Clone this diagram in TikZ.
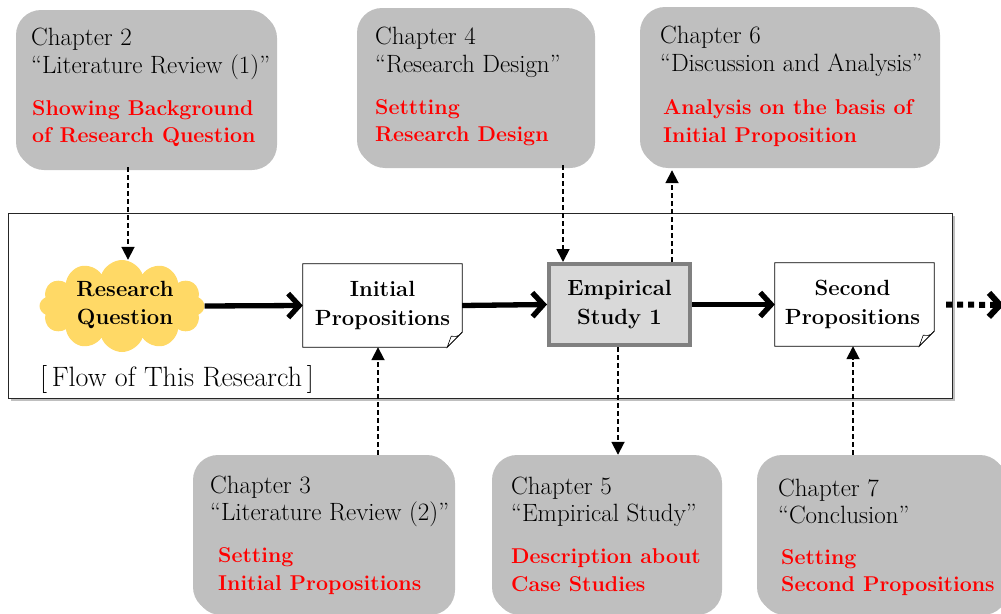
\documentclass[tikz,border=0pt]{standalone}
\usetikzlibrary{arrows.meta,shapes.symbols,shadows}
\definecolor{boxgray}{HTML}{BFBFBF}
\definecolor{cloudyellow}{HTML}{FFD966}
\definecolor{studyfill}{HTML}{D9D9D9}
\definecolor{studyline}{HTML}{808080}
\definecolor{notered}{HTML}{FF0000}

% page outline with a curled lower right corner, drawn round a node
\newcommand\foldedpage[1]{%
  \draw[line width=.8pt] (#1.north west) -- (#1.north east)
    -- ([yshift=15pt]#1.south east) -- ([xshift=-15pt]#1.south east)
    -- (#1.south west) -- cycle;
  \draw[line width=.6pt, fill=white] ([yshift=15pt]#1.south east)
    .. controls ([xshift=-5pt,yshift=9pt]#1.south east) and ([xshift=-8pt,yshift=11pt]#1.south east)
    .. ([xshift=-11pt,yshift=11pt]#1.south east) -- ([xshift=-15pt]#1.south east) -- cycle;}

\begin{document}
\begin{tikzpicture}[x=1pt,y=-1pt,
  softshadow/.style={drop shadow={shadow xshift=3pt, shadow yshift=-3pt, opacity=.25, fill=black}},
  chapbox/.style={fill=boxgray, rounded corners=25pt, inner sep=0pt, softshadow},
  chaptext/.style={inner sep=0pt, anchor=base west, font=\fontsize{25}{28}\selectfont},
  keytext/.style={inner sep=0pt, anchor=base west, text=notered, font=\fontsize{21.4}{28}\selectfont\bfseries},
  stagetext/.style={font=\fontsize{22}{28.5}\selectfont\bfseries, align=center, inner sep=0pt},
  pagebox/.style={stagetext, fill=white, minimum width=159pt, minimum height=83pt},
  flowarrow/.style={line width=5.3pt, -{Straight Barb[length=11pt,width=24pt]}},
  linkarrow/.style={line width=1.8pt, dash pattern=on 5pt off 3pt, -{Triangle[length=13pt,width=13pt]}},
  morearrow/.style={line width=6pt, dash pattern=on 6pt off 5pt, -{Straight Barb[length=11pt,width=24pt]}},
]
\useasboundingbox (0,0) rectangle (1001,613);

% frame of the research flow
\node[draw=black!85, line width=1pt, fill=white, minimum width=944pt, minimum height=185pt, softshadow] (frame) at (480,305.5) {};
\node[inner sep=0pt, anchor=base west, font=\fontsize{28}{32}\selectfont] (flowlabel) at (40,386) {[\,Flow of This Research\,]};

% stages of the flow
\node[cloud, cloud puffs=12, cloud puff arc=140, cloud ignores aspect, minimum width=165pt, minimum height=92pt, fill=cloudyellow, inner sep=0pt] (rq) at (122,306) {};
\node[stagetext] (rqtext) at (125,305) {Research\\Question};

\node[pagebox] (init) at (382.5,305.5) {Initial\\Propositions};
\foldedpage{init}

\node[stagetext, draw=studyline, line width=4pt, fill=studyfill, minimum width=141pt, minimum height=81pt, drop shadow={shadow xshift=2pt, shadow yshift=-2pt, opacity=.2, fill=black}] (emp) at (619.5,304.5) {Empirical\\Study 1};

\node[pagebox] (second) at (854.5,304.5) {\hspace*{-4pt}Second\\\hspace*{-4pt}Propositions};
\foldedpage{second}

\coordinate (more) at (1004,305);

% chapters
\node[chapbox, minimum width=258pt, minimum height=157pt] (ch2) at (145,88.5) {};
\node[chaptext] (ch2a) at (31,45) {Chapter 2};
\node[chaptext] (ch2b) at (31,73) {“Literature Review (1)”};
\node[keytext] (ch2c) at (32,115) {Showing Background};
\node[keytext] (ch2d) at (32,142) {of Research Question};

\node[chapbox, minimum width=235pt, minimum height=157pt] (ch4) at (474.5,86.5) {};
\node[chaptext] (ch4a) at (375,44) {Chapter 4};
\node[chaptext] (ch4b) at (375,72) {“Research Design”};
\node[keytext] (ch4c) at (375,114) {Settting};
\node[keytext] (ch4d) at (375,141) {Research Design};

\node[chapbox, minimum width=297pt, minimum height=158pt] (ch6) at (788.5,86) {};
\node[chaptext] (ch6a) at (660,43) {Chapter 6};
\node[chaptext] (ch6b) at (660,71) {“Discussion and Analysis”};
\node[keytext] (ch6c) at (663,114) {Analysis on the basis of};
\node[keytext] (ch6d) at (663,142) {Initial Proposition};

\node[chapbox, minimum width=259pt, minimum height=157pt] (ch3) at (322.5,533.5) {};
\node[chaptext] (ch3a) at (210,493) {Chapter 3};
\node[chaptext] (ch3b) at (210,520) {“Literature Review (2)”};
\node[keytext] (ch3c) at (218,562) {Setting};
\node[keytext] (ch3d) at (218,590) {Initial Propositions};

\node[chapbox, minimum width=227pt, minimum height=157pt] (ch5) at (605.5,533.5) {};
\node[chaptext] (ch5a) at (511,494) {Chapter 5};
\node[chaptext] (ch5b) at (511,521) {“Empirical Study”};
\node[keytext] (ch5c) at (511,563) {Description about};
\node[keytext] (ch5d) at (511,591) {Case Studies};

\node[chapbox, minimum width=248pt, minimum height=157pt] (ch7) at (881,533.5) {};
\node[chaptext] (ch7a) at (778,496) {Chapter 7};
\node[chaptext] (ch7b) at (778,523) {“Conclusion”};
\node[keytext] (ch7c) at (781,564) {Setting};
\node[keytext] (ch7d) at (781,591) {Second Propositions};

% main flow
\draw[flowarrow] (rq.east) -- (init.west);
\draw[flowarrow] (init.east) -- (emp.west);
\draw[flowarrow] (emp.east) -- (second.west);
\draw[morearrow] ([xshift=12pt]second.east) -- (more);

% links between chapters and stages
\coordinate (xa) at (128,0);
\coordinate (xb) at (563,0);
\coordinate (xc) at (672,0);
\coordinate (xd) at (378,0);
\coordinate (xe) at (618,0);
\coordinate (xf) at (853,0);
\draw[linkarrow] (ch2.south -| xa) -- (xa |- rq.north);
\draw[linkarrow] (ch4.south -| xb) -- (xb |- emp.north);
\draw[linkarrow, shorten >=5pt] (xc |- emp.north) -- (ch6.south -| xc);
\draw[linkarrow] (ch3.north -| xd) -- (init.south -| xd);
\draw[linkarrow] (emp.south -| xe) -- (ch5.north -| xe);
\draw[linkarrow] (ch7.north -| xf) -- (second.south -| xf);
\end{tikzpicture}
\end{document}
